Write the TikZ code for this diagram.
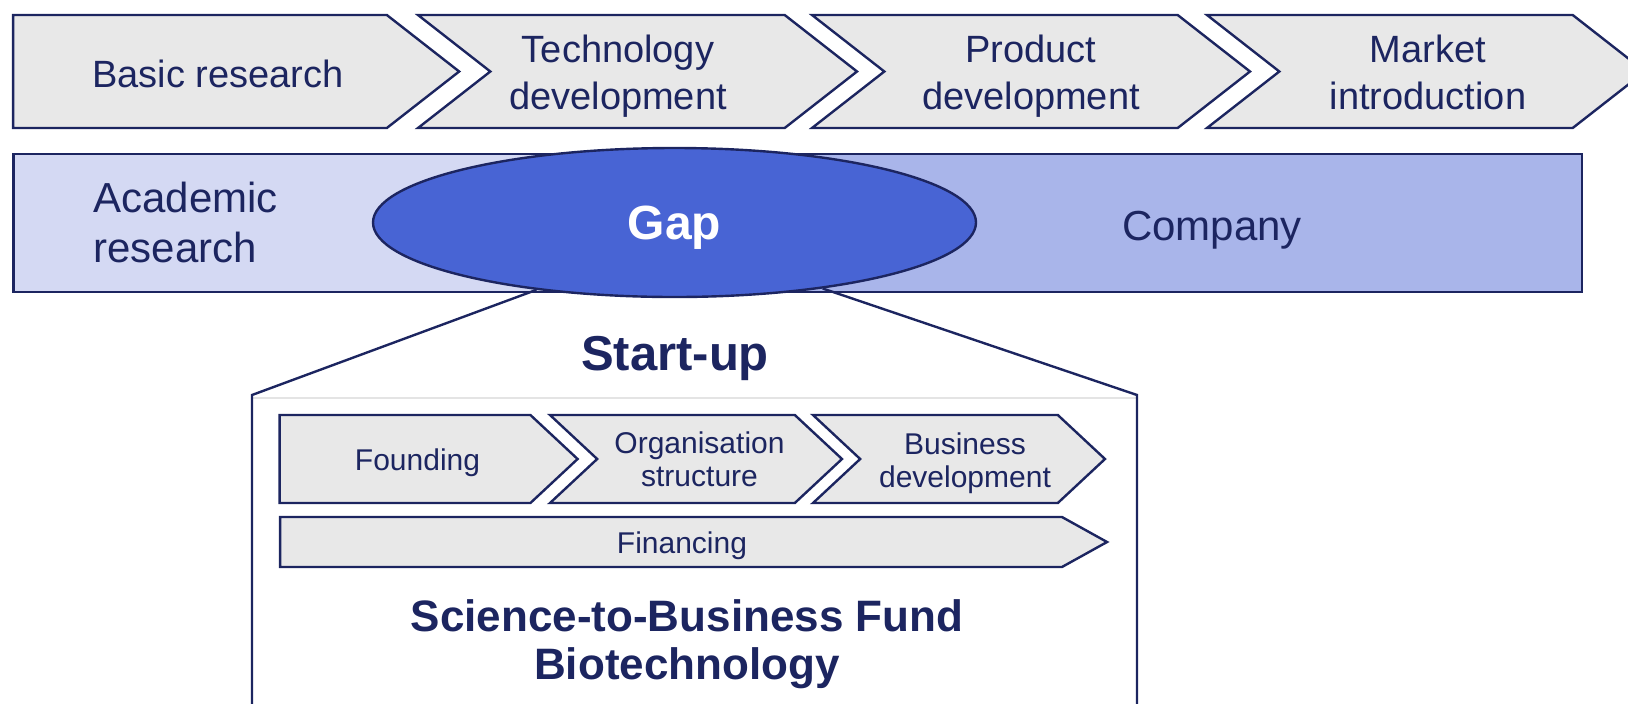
\documentclass[tikz,border=0pt]{standalone}
\usepackage{fontspec}
\setmainfont{Liberation Sans}
\usetikzlibrary{shapes.symbols,shapes.geometric,positioning}
\definecolor{navy}{RGB}{28,37,96}
\definecolor{chevgray}{RGB}{232,232,232}
\definecolor{acadblue}{RGB}{212,217,243}
\definecolor{compblue}{RGB}{169,181,234}
\definecolor{gapblue}{RGB}{72,100,212}
\definecolor{faintgray}{RGB}{228,228,228}
\tikzset{stage/.style={shape=signal, signal to=east, draw=navy, line width=1.2pt,
  fill=chevgray, inner sep=0pt, outer sep=0pt},
 big stage/.style={stage, minimum height=56.5pt, signal pointer angle=76},
 small stage/.style={stage, minimum height=44pt, signal pointer angle=86},
 txt/.style={text=navy, inner sep=0pt, align=center}}

\begin{document}
\begin{tikzpicture}[x=0.5pt, y=-0.5pt,
  stagetxt/.style={txt, font=\fontsize{19}{23.5}\selectfont},
  bandtxt/.style={txt, font=\fontsize{21}{25}\selectfont},
  subtxt/.style={txt, font=\fontsize{15}{16.5}\selectfont},
  headtxt/.style={txt, font=\bfseries\fontsize{22}{24}\selectfont},
  band/.style={inner sep=0pt, outer sep=0pt, minimum height=69pt}]
\useasboundingbox (0,0) rectangle (1628,703);
\clip (0,0) rectangle (1628,703);

% value chain
\node[big stage, signal from=nowhere, minimum width=223pt] (basic) at (200,71.5) {};
\node[big stage, signal from=west, minimum width=219.5pt] (techdev) at (637.5,71.5) {};
\node[big stage, signal from=west, minimum width=219pt] (proddev) at (1031,71.5) {};
\node[big stage, signal from=west, minimum width=219pt] (market) at (1426,71.5) {};
\node[stagetxt, anchor=base] (basictxt) at (218,87) {Basic research};
\node[stagetxt, anchor=north] (techtxt) at (618,35) {Technology\\development};
\node[stagetxt, anchor=north] (prodtxt) at (1031,35) {Product\\development};
\node[stagetxt, anchor=north] (markettxt) at (1428,35) {Market\\introduction};

% academia / company band
\node[band, fill=acadblue, minimum width=330.75pt] (acad) at (344.25,223) {};
\node[band, fill=compblue, minimum width=453.5pt] (comp) at (1128.5,223) {};
\draw[navy, line width=1.2pt] (acad.north west) rectangle (comp.south east);
\node[bandtxt, anchor=north west, align=left] (acadtxt) at (93,182) {Academic\\research};
\node[bandtxt, anchor=base] (comptxt) at (1212,240) {Company};
\node[ellipse, draw=navy, line width=1.2pt, fill=gapblue, minimum width=301.5pt,
  minimum height=74.5pt, inner sep=0pt, text=white, text depth=0pt,
  font=\bfseries\fontsize{24}{28}\selectfont] (gap) at (674.5,222.5) {Gap};

% start-up zoom
\coordinate (boxnw) at (252,395);
\coordinate (boxne) at (1137,395);
\coordinate (boxsw) at (252,720);
\coordinate (boxse) at (1137,720);
\draw[faintgray, line width=0.8pt] ([yshift=-1.5pt]boxnw) -- ([yshift=-1.5pt]boxne);
\draw[navy, line width=1.2pt] (gap.206) -- (boxnw) -- (boxsw)
  (gap.336) -- (boxne) -- (boxse);
\node[txt, anchor=base, font=\bfseries\fontsize{24.5}{28}\selectfont] (startup) at (675,370) {Start-up};

\node[small stage, signal from=nowhere, minimum width=149pt] (found) at (405,459) {};
\node[small stage, signal from=west, minimum width=146pt] (orga) at (696,459) {};
\node[small stage, signal from=west, minimum width=146pt] (busdev) at (959,459) {};
\node[stage, signal from=nowhere, minimum height=25pt, signal pointer angle=58,
  minimum width=413.5pt] (finance) at (671,542) {};
\node[subtxt, anchor=base] (foundtxt) at (417.5,470) {Founding};
\node[subtxt, anchor=north] (orgatxt) at (699.5,431) {Organisation\\structure};
\node[subtxt, anchor=north] (busdevtxt) at (965,432) {Business\\development};
\node[subtxt, anchor=base] (financetxt) at (682,553) {Financing};

\node[headtxt, anchor=north] (fund) at (687,599) {Science-to-Business Fund\\Biotechnology};
\end{tikzpicture}
\end{document}
